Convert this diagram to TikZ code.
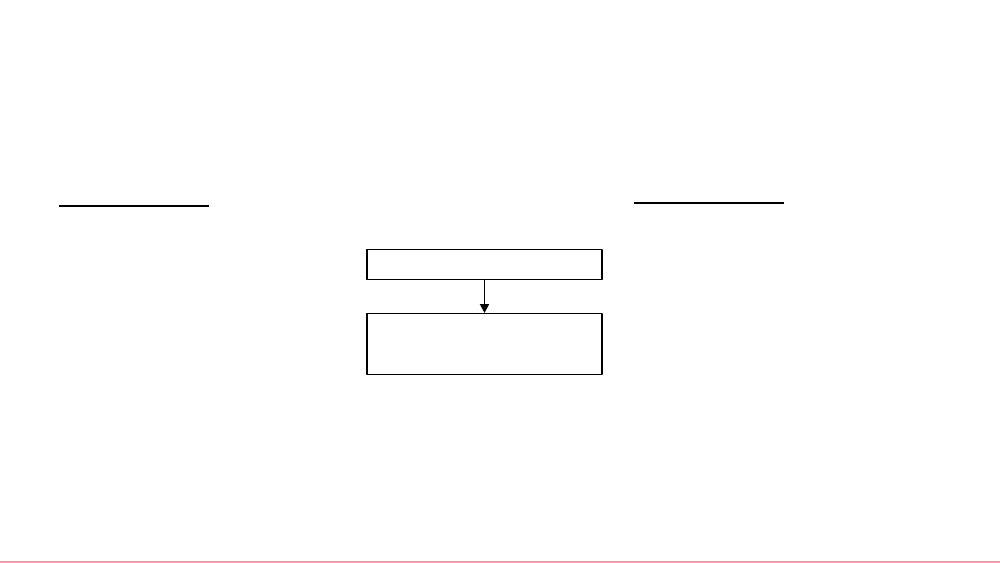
\documentclass[tikz,border=0pt]{standalone}
\usetikzlibrary{positioning,arrows.meta}
\begin{document}
\begin{tikzpicture}[x=0.02cm,y=-0.02cm,>={Triangle[length=5pt,width=5pt]}, line join=round,
  stepbox/.style={draw, line width=0.8pt, minimum width=4.7cm, inner sep=0pt},
  rule/.style={line width=1pt}]
\useasboundingbox (0,0) rectangle (1000,563);
\definecolor{pinkline}{RGB}{232,160,170}
\path
(59,206) coordinate (L1) (209,206) coordinate (L2)
(634,203) coordinate (R1) (784,203) coordinate (R2);
\node[stepbox, minimum height=0.6cm] (top) at (484.5,264.3) {};
\node[stepbox, minimum height=1.22cm, below=0.66cm of top] (bot) {};
\draw[rule] (L1)--(L2) (R1)--(R2);
\draw[->, line width=1.1pt] (top)--(bot);
\draw[pinkline, line width=0.8pt] (0,562)--(1000,562);
\end{tikzpicture}
\end{document}
